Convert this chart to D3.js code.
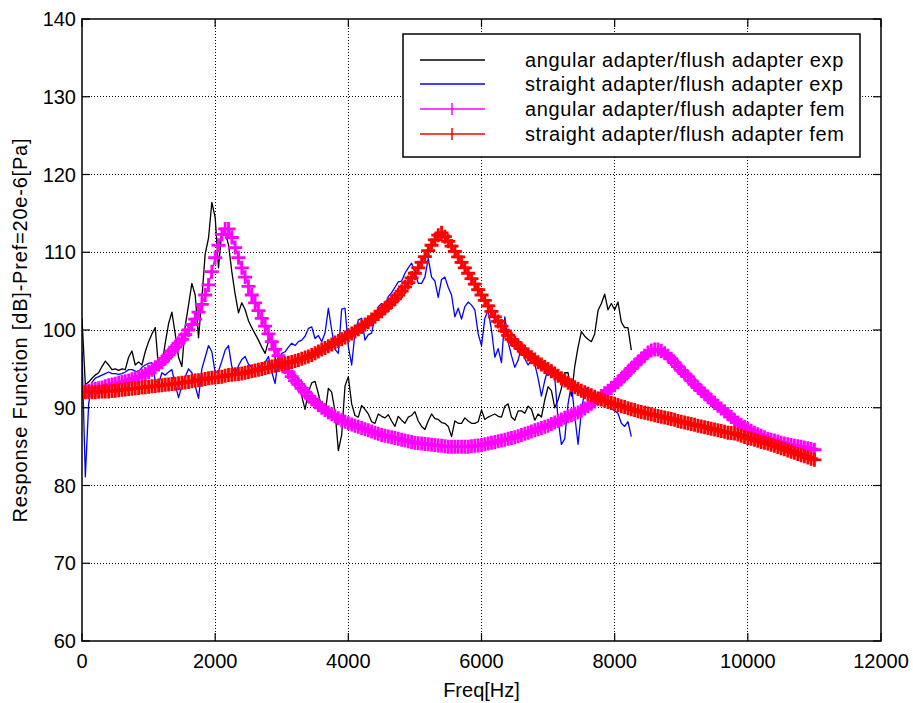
<!DOCTYPE html>
<html>
<head>
<meta charset="utf-8">
<script src="https://cdn.jsdelivr.net/npm/d3@7"></script>
<style>
  body { margin: 0; background: #fff; }
  text { font-family: "Liberation Sans", Arial, Helvetica, sans-serif; fill: #000; }
</style>
</head>
<body>
<div id="chart"></div>
<script>
// measured curves, sampled every 50 Hz from 0 to 8250 Hz
const expStep = 50;
const angularExp = [
  101.5, 93.0, 93.3, 93.8, 94.2, 94.5, 95.3, 96.0, 95.5, 94.9,
  95.0, 94.8, 95.0, 94.9, 96.5, 97.3, 95.5, 95.9, 95.5, 97.2,
  98.5, 99.5, 100.3, 95.0, 95.5, 98.3, 100.8, 102.3, 99.5, 96.5,
  95.3, 100.5, 103.2, 106.0, 104.5, 99.0, 104.0, 109.8, 111.8, 116.4,
  114.5, 108.0, 112.8, 112.5, 111.0, 107.5, 104.6, 102.2, 103.5, 102.6,
  101.2, 100.3, 99.5, 98.7, 97.8, 97.0, 98.5, 99.3, 96.4, 95.5,
  94.9, 94.5, 94.6, 94.4, 94.2, 93.6, 91.5, 89.8, 92.0, 93.2,
  93.4, 91.8, 90.0, 89.2, 92.5, 92.0, 89.5, 84.5, 86.5, 92.8,
  94.0, 90.5, 89.0, 88.8, 90.3, 89.8, 89.2, 88.2, 88.0, 89.2,
  88.9, 88.7, 89.1, 88.3, 87.6, 88.9, 88.4, 88.0, 88.8, 89.0,
  89.5, 88.3, 87.6, 87.2, 88.3, 89.2, 88.6, 88.5, 88.1, 88.0,
  87.6, 86.3, 88.3, 88.0, 88.0, 88.7, 88.3, 88.0, 88.0, 88.2,
  89.7, 88.5, 88.8, 89.0, 89.2, 88.9, 88.8, 90.2, 90.5, 88.8,
  88.4, 89.6, 89.6, 89.3, 90.2, 89.8, 88.4, 89.2, 88.8, 91.0,
  92.7, 92.2, 90.0, 91.0, 92.5, 94.5, 94.5, 91.5, 95.3, 97.8,
  99.8, 99.2, 98.8, 98.5, 99.5, 102.5, 103.4, 104.6, 102.6, 103.4,
  102.6, 103.6, 101.0, 100.3, 100.3, 97.4
];
const straightExp = [
  97.2, 81.1, 90.5, 93.3, 93.8, 94.0, 94.2, 94.4, 94.6, 94.4,
  94.4, 94.3, 94.4, 94.6, 94.9, 94.9, 94.7, 94.6, 95.2, 95.5,
  95.7, 95.8, 93.5, 93.1, 94.5, 94.2, 94.6, 94.9, 93.0, 91.3,
  92.8, 94.0, 95.0, 94.5, 92.8, 91.2, 95.0, 96.5, 98.0, 97.2,
  94.5, 94.7, 96.0, 97.4, 98.0, 95.3, 94.4, 95.4, 96.2, 96.6,
  95.6, 95.2, 94.9, 95.2, 95.5, 95.8, 96.6, 94.6, 93.1, 96.4,
  97.0, 97.2, 97.8, 98.3, 98.0, 98.5, 98.7, 99.2, 100.2, 100.4,
  98.9, 99.3, 98.5, 99.6, 102.8, 100.0, 97.5, 97.0, 102.7, 102.8,
  97.9, 95.5, 99.6, 101.3, 101.5, 98.7, 99.4, 99.6, 101.7, 103.0,
  103.4, 103.2, 104.3, 104.8, 105.5, 106.2, 106.3, 107.3, 108.0, 108.6,
  107.5, 106.0, 106.0, 106.8, 109.2, 106.8, 106.3, 104.2, 106.5, 106.8,
  105.5, 104.5, 101.7, 102.8, 101.4, 103.0, 103.6, 103.2, 102.6, 99.5,
  98.0, 101.5, 102.5, 100.0, 96.5, 97.6, 95.8, 101.7, 98.5, 96.7,
  95.2, 96.1, 97.9, 96.3, 95.5, 96.1, 95.6, 93.8, 91.5, 93.5,
  95.0, 95.5, 94.0, 88.5, 85.3, 86.0, 90.5, 93.0, 89.0, 85.3,
  89.5, 92.3, 92.6, 91.3, 90.8, 91.5, 91.3, 90.8, 90.2, 89.9,
  89.6, 89.3, 88.0, 87.6, 88.2, 86.3
];

// fem curves, sampled every 50 Hz from 0 to 11000 Hz
const femStep = 50;
const angularFem = [
  92.0, 92.1, 92.2, 92.3, 92.4, 92.5, 92.6, 92.75, 92.9, 93.0,
  93.1, 93.2, 93.3, 93.4, 93.5, 93.65, 93.8, 93.95, 94.1, 94.35,
  94.6, 94.9, 95.2, 95.55, 95.9, 96.35, 96.8, 97.3, 97.8, 98.3,
  98.8, 99.4, 100.0, 100.7, 101.4, 102.3, 103.3, 104.5, 105.8, 107.5,
  109.3, 110.9, 112.3, 113.0, 113.0, 111.9, 110.6, 109.3, 108.0, 106.8,
  105.6, 104.5, 103.5, 102.5, 101.5, 100.5, 99.5, 98.5, 97.5, 96.7,
  95.9, 95.2, 94.6, 94.0, 93.5, 93.0, 92.5, 92.0, 91.5, 91.1,
  90.7, 90.35, 90.0, 89.7, 89.4, 89.15, 88.9, 88.65, 88.4, 88.2,
  88.0, 87.85, 87.7, 87.55, 87.4, 87.25, 87.1, 86.95, 86.8, 86.65,
  86.5, 86.4, 86.3, 86.2, 86.1, 86.0, 85.9, 85.8, 85.7, 85.6,
  85.5, 85.45, 85.4, 85.35, 85.3, 85.25, 85.2, 85.15, 85.1, 85.05,
  85.0, 85.0, 85.0, 85.0, 85.0, 85.0, 85.0, 85.05, 85.1, 85.15,
  85.2, 85.3, 85.4, 85.5, 85.6, 85.7, 85.8, 85.9, 86.0, 86.1,
  86.2, 86.35, 86.5, 86.65, 86.8, 86.95, 87.1, 87.25, 87.4, 87.55,
  87.7, 87.9, 88.1, 88.3, 88.5, 88.7, 88.9, 89.05, 89.2, 89.4,
  89.6, 89.9, 90.2, 90.5, 90.8, 91.15, 91.5, 91.85, 92.2, 92.55,
  92.9, 93.3, 93.7, 94.15, 94.6, 95.05, 95.5, 95.9, 96.3, 96.7,
  97.1, 97.35, 97.5, 97.5, 97.3, 97.0, 96.7, 96.3, 95.8, 95.3,
  94.8, 94.4, 94.0, 93.5, 93.0, 92.6, 92.2, 91.8, 91.4, 91.0,
  90.6, 90.25, 89.9, 89.55, 89.2, 88.8, 88.4, 88.1, 87.8, 87.55,
  87.3, 87.05, 86.8, 86.6, 86.4, 86.2, 86.0, 85.9, 85.8, 85.65,
  85.5, 85.4, 85.3, 85.2, 85.1, 85.05, 85.0, 84.9, 84.8, 84.7,
  84.6
];
const straightFem = [
  92.0, 92.0, 92.0, 92.0, 92.0, 92.05, 92.1, 92.1, 92.1, 92.15,
  92.2, 92.25, 92.3, 92.35, 92.4, 92.45, 92.5, 92.55, 92.6, 92.65,
  92.7, 92.75, 92.8, 92.85, 92.9, 92.95, 93.0, 93.05, 93.1, 93.15,
  93.2, 93.25, 93.3, 93.4, 93.5, 93.55, 93.6, 93.7, 93.8, 93.85,
  93.9, 93.95, 94.0, 94.1, 94.2, 94.25, 94.3, 94.35, 94.4, 94.5,
  94.6, 94.7, 94.8, 94.9, 95.0, 95.1, 95.2, 95.3, 95.4, 95.5,
  95.6, 95.7, 95.8, 95.9, 96.0, 96.15, 96.3, 96.45, 96.6, 96.8,
  97.0, 97.25, 97.5, 97.7, 97.9, 98.15, 98.4, 98.6, 98.8, 99.05,
  99.3, 99.55, 99.8, 100.1, 100.4, 100.7, 101.0, 101.35, 101.7, 102.05,
  102.4, 102.8, 103.2, 103.6, 104.0, 104.5, 105.0, 105.55, 106.1, 106.7,
  107.3, 108.0, 108.7, 109.45, 110.2, 110.9, 111.6, 112.2, 112.5, 112.0,
  111.4, 110.8, 110.1, 109.4, 108.7, 108.0, 107.3, 106.6, 105.9, 105.2,
  104.5, 103.8, 103.1, 102.4, 101.7, 101.1, 100.5, 99.9, 99.3, 98.8,
  98.4, 98.0, 97.6, 97.2, 96.85, 96.5, 96.2, 95.85, 95.55, 95.25,
  95.0, 94.7, 94.4, 94.1, 93.8, 93.5, 93.2, 92.9, 92.65, 92.4,
  92.2, 92.0, 91.8, 91.6, 91.4, 91.2, 91.05, 90.9, 90.75, 90.6,
  90.5, 90.35, 90.2, 90.1, 89.95, 89.8, 89.7, 89.55, 89.45, 89.35,
  89.25, 89.15, 89.05, 88.95, 88.85, 88.75, 88.65, 88.55, 88.45, 88.3,
  88.2, 88.1, 88.0, 87.9, 87.8, 87.7, 87.6, 87.5, 87.4, 87.3,
  87.2, 87.1, 87.0, 86.9, 86.8, 86.75, 86.7, 86.55, 86.4, 86.25,
  86.1, 86.0, 85.9, 85.75, 85.6, 85.5, 85.4, 85.25, 85.1, 84.95,
  84.8, 84.65, 84.5, 84.35, 84.2, 84.05, 83.9, 83.75, 83.6, 83.45,
  83.3
];

const xTicks = [0, 2000, 4000, 6000, 8000, 10000, 12000];
const yTicks = [60, 70, 80, 90, 100, 110, 120, 130, 140];

const seriesNames = [
  "angular adapter/flush adapter exp",
  "straight adapter/flush adapter exp",
  "angular adapter/flush adapter fem",
  "straight adapter/flush adapter fem"
];
const seriesColors = ["#000000", "#0000ff", "#ff00ff", "#ff0000"];

const width = 913, height = 703;
const margin = {top: 19, right: 32, bottom: 62, left: 82};

const svg = d3.select("#chart").append("svg")
  .attr("width", width)
  .attr("height", height);

const x = d3.scaleLinear().domain([0, 12000]).range([margin.left, width - margin.right]);
const y = d3.scaleLinear().domain([60, 140]).range([height - margin.bottom, margin.top]);

const toPoints = (vals, step) => vals.map((v, i) => [i * step, v]);

// grid
svg.append("g").selectAll("line")
  .data(xTicks.slice(1, -1)).join("line")
  .attr("x1", d => x(d)).attr("x2", d => x(d))
  .attr("y1", y(60)).attr("y2", y(140))
  .attr("stroke", "#000").attr("stroke-width", 1)
  .attr("stroke-dasharray", "1,2")
  .attr("shape-rendering", "crispEdges");

svg.append("g").selectAll("line")
  .data(yTicks.slice(1, -1)).join("line")
  .attr("x1", x(0)).attr("x2", x(12000))
  .attr("y1", d => y(d)).attr("y2", d => y(d))
  .attr("stroke", "#000").attr("stroke-width", 1)
  .attr("stroke-dasharray", "1,2")
  .attr("shape-rendering", "crispEdges");

// clip
svg.append("clipPath").attr("id", "plotclip")
  .append("rect")
  .attr("x", x(0)).attr("y", y(140))
  .attr("width", x(12000) - x(0)).attr("height", y(60) - y(140));

const plot = svg.append("g").attr("clip-path", "url(#plotclip)");
const line = d3.line().x(d => x(d[0])).y(d => y(d[1]));

const plus = 7;
function drawSeries(points, color, markers) {
  plot.append("path")
    .datum(points)
    .attr("d", line)
    .attr("fill", "none")
    .attr("stroke", color)
    .attr("stroke-width", 1.3)
    .attr("stroke-linejoin", "round");
  if (markers) {
    plot.append("path")
      .attr("d", points.map(d => {
        const px = x(d[0]), py = y(d[1]);
        return `M${px - plus},${py}H${px + plus}M${px},${py - plus}V${py + plus}`;
      }).join(""))
      .attr("fill", "none")
      .attr("stroke", color)
      .attr("stroke-width", 2.8);
  }
}

drawSeries(toPoints(angularExp, expStep), seriesColors[0], false);
drawSeries(toPoints(straightExp, expStep), seriesColors[1], false);
drawSeries(toPoints(angularFem, femStep), seriesColors[2], true);
drawSeries(toPoints(straightFem, femStep), seriesColors[3], true);

// axes box with inward ticks on all sides
const box = svg.append("g");
box.append("rect")
  .attr("x", x(0)).attr("y", y(140))
  .attr("width", x(12000) - x(0)).attr("height", y(60) - y(140))
  .attr("fill", "none").attr("stroke", "#000").attr("stroke-width", 1.5);

const tl = 8;
xTicks.forEach(t => {
  box.append("line").attr("x1", x(t)).attr("x2", x(t))
    .attr("y1", y(60)).attr("y2", y(60) - tl).attr("stroke", "#000").attr("stroke-width", 1.2);
  box.append("line").attr("x1", x(t)).attr("x2", x(t))
    .attr("y1", y(140)).attr("y2", y(140) + tl).attr("stroke", "#000").attr("stroke-width", 1.2);
});
yTicks.forEach(t => {
  box.append("line").attr("x1", x(0)).attr("x2", x(0) + tl)
    .attr("y1", y(t)).attr("y2", y(t)).attr("stroke", "#000").attr("stroke-width", 1.2);
  box.append("line").attr("x1", x(12000)).attr("x2", x(12000) - tl)
    .attr("y1", y(t)).attr("y2", y(t)).attr("stroke", "#000").attr("stroke-width", 1.2);
});

// tick labels
svg.append("g").selectAll("text")
  .data(xTicks).join("text")
  .attr("x", d => x(d)).attr("y", y(60) + 27)
  .attr("text-anchor", "middle")
  .style("font-size", "20px")
  .text(d => d);

svg.append("g").selectAll("text")
  .data(yTicks).join("text")
  .attr("x", x(0) - 6).attr("y", d => y(d) + 7)
  .attr("text-anchor", "end")
  .style("font-size", "20px")
  .text(d => d);

// axis labels
svg.append("text")
  .attr("x", (x(0) + x(12000)) / 2).attr("y", 697)
  .attr("text-anchor", "middle")
  .style("font-size", "20px")
  .text("Freq[Hz]");

svg.append("text")
  .attr("transform", `translate(27,${(y(60) + y(140)) / 2}) rotate(-90)`)
  .attr("text-anchor", "middle")
  .style("font-size", "20px")
  .style("letter-spacing", "0.8px")
  .text("Response Function [dB]-Pref=20e-6[Pa]");

// legend
const legend = svg.append("g").attr("transform", "translate(403,34)");
legend.append("rect")
  .attr("width", 457).attr("height", 123)
  .attr("fill", "#fff").attr("stroke", "#000").attr("stroke-width", 1.5);

const rowY = [26, 50, 75, 100];
seriesNames.forEach((name, i) => {
  const g = legend.append("g").attr("transform", `translate(0,${rowY[i]})`);
  g.append("line").attr("x1", 17).attr("x2", 82).attr("y1", 0).attr("y2", 0)
    .attr("stroke", seriesColors[i]).attr("stroke-width", 1.5);
  if (i >= 2) {
    g.append("line").attr("x1", 49).attr("x2", 49).attr("y1", -6).attr("y2", 6)
      .attr("stroke", seriesColors[i]).attr("stroke-width", 1.5);
  }
  g.append("text").attr("x", 122).attr("y", 7)
    .style("font-size", "20px")
    .style("letter-spacing", "0.6px")
    .text(name);
});
</script>
</body>
</html>
